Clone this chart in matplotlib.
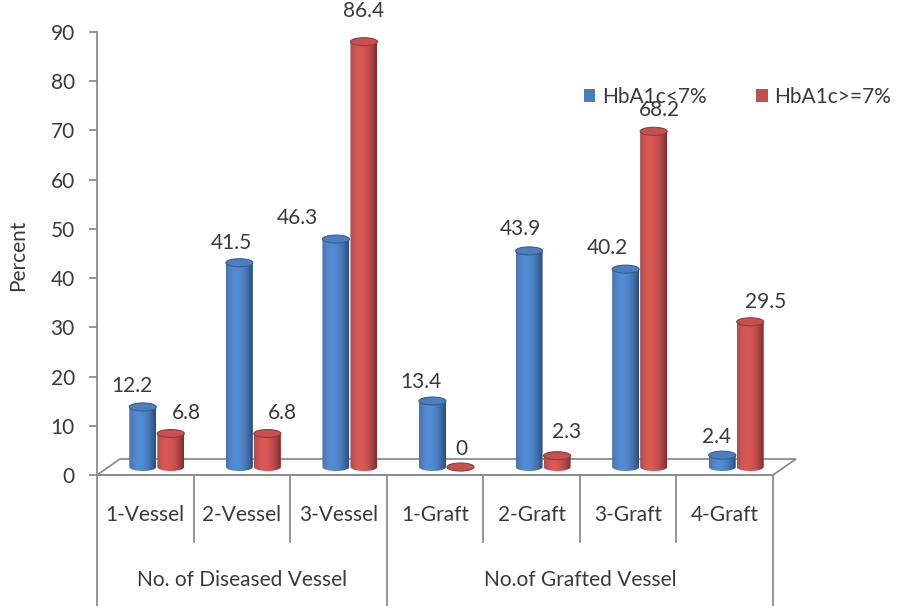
import numpy as np
import matplotlib
matplotlib.use("Agg")
import matplotlib.pyplot as plt
from matplotlib.patches import Ellipse, PathPatch, Polygon, Patch
from matplotlib.path import Path

plt.rcParams["font.family"] = ["Lato", "DejaVu Sans"]

categories = ["1-Vessel", "2-Vessel", "3-Vessel", "1-Graft", "2-Graft", "3-Graft", "4-Graft"]
groups = ["No. of Diseased Vessel", "No.of Grafted Vessel"]
group_sizes = [3, 4]
series_names = ["HbA1c<7%", "HbA1c>=7%"]
hba1c_low = [12.2, 41.5, 46.3, 13.4, 43.9, 40.2, 2.4]
hba1c_high = [6.8, 6.8, 86.4, 0.0, 2.3, 68.2, 29.5]
yticks = list(range(0, 100, 10))

BLUE = np.array([0.29, 0.49, 0.74])
RED = np.array([0.76, 0.31, 0.30])
GRID = "#8c8c8c"
TEXT = "#3a3a3a"

# label offsets in points (dx, dy) from the top of each cylinder
low_offsets = [(-8, 15), (-6, 14), (-28, 15), (-8, 14), (-6, 16), (-13, 15), (-4, 13)]
high_offsets = [(11, 15), (11, 15), (0, 22), (1, 13), (7, 17), (4, 15), (11, 14)]

fig = plt.figure(figsize=(8.98, 6.06), dpi=100)
ax = fig.add_axes([97 / 898, 131 / 606, 676 / 898, 443 / 606])
ax.set_xlim(-0.5, 6.5)
ax.set_ylim(0, 90)

# pixel sizes converted into data units for the fake 3D depth
px_x = 7 / 676
px_y = 90 / 443
back_dx, back_dy = 23 * px_x, 16 * px_y
mid_dx, mid_dy = back_dx / 2, back_dy / 2
bar_w = 27 * px_x
ell_h = 8 * px_y
half_gap = 0.145

# floor
floor = Polygon([(-0.5, 0), (-0.5 + back_dx, back_dy), (6.5 + back_dx, back_dy), (6.5, 0)],
                closed=True, facecolor="white", edgecolor=GRID, linewidth=1.3,
                clip_on=False, zorder=1)
ax.add_patch(floor)


def shading(rgb, n=80):
    t = np.linspace(0, 1, n)
    light = np.clip(1 - ((t - 0.38) / 0.62) ** 2, 0, 1)
    f = 0.6 + 0.52 * light
    cols = np.clip(rgb[None, :] * f[:, None], 0, 1)
    return cols[None, :, :]


def cylinder(xc, value, rgb, z):
    x0, x1 = xc - bar_w / 2, xc + bar_w / 2
    base = mid_dy
    top = value + mid_dy
    theta = np.linspace(np.pi, 2 * np.pi, 40)
    arc_x = xc + bar_w / 2 * np.cos(theta)
    arc_y = base + ell_h / 2 * np.sin(theta)
    verts = [(x0, top)] + list(zip(arc_x, arc_y)) + [(x1, top), (x0, top)]
    codes = [Path.MOVETO] + [Path.LINETO] * (len(verts) - 2) + [Path.CLOSEPOLY]
    body = PathPatch(Path(verts, codes), facecolor="none", edgecolor="none")
    ax.add_patch(body)
    im = ax.imshow(shading(rgb), extent=[x0, x1, base - ell_h, top], aspect="auto",
                   interpolation="bilinear", zorder=z)
    im.set_clip_path(body)
    cap = Ellipse((xc, top), bar_w, ell_h, facecolor=np.clip(rgb * 1.02, 0, 1),
                  edgecolor=np.clip(rgb * 0.75, 0, 1), linewidth=0.8, zorder=z + 0.1)
    ax.add_patch(cap)
    return top


for i in range(len(categories)):
    for vals, rgb, offs, sign in ((hba1c_low, BLUE, low_offsets, -1),
                                  (hba1c_high, RED, high_offsets, 1)):
        xc = i + mid_dx + sign * half_gap
        top = cylinder(xc, vals[i], rgb, 3)
        dx, dy = offs[i]
        label = f"{vals[i]:g}" if vals[i] else "0"
        ax.annotate(label, (xc, top), xytext=(dx, dy), textcoords="offset points",
                    ha="center", va="center", fontsize=15, color=TEXT, zorder=6)

ax.set_xlim(-0.5, 6.5)
ax.set_ylim(0, 90)

# axes styling
for side in ("top", "right", "bottom"):
    ax.spines[side].set_visible(False)
ax.spines["left"].set_color(GRID)
ax.spines["left"].set_linewidth(1.3)
ax.set_yticks(yticks)
ax.tick_params(axis="y", direction="out", length=6, width=1.3, color=GRID,
               labelsize=15, labelcolor=TEXT, pad=10)
ax.set_xticks([])
fig.text(18 / 898, 1 - 255 / 606, "Percent", rotation=90, ha="center", va="center",
         fontsize=15, color=TEXT)

# category table below the floor
xt = ax.get_xaxis_transform()
ax.plot([-0.5, 6.5], [0, 0], color=GRID, lw=1.3, transform=xt, clip_on=False, zorder=2)
bounds = np.arange(-0.5, 7.0, 1.0)
group_edges = np.cumsum([0] + group_sizes) - 0.5
short_end = -67 / 443
long_end = -131 / 443
for b in bounds:
    end = long_end if np.isclose(group_edges, b).any() else short_end
    ax.plot([b, b], [0, end], color=GRID, lw=1.3, transform=xt, clip_on=False)
for i, name in enumerate(categories):
    ax.text(i, -40 / 443, name, transform=xt, ha="center", va="center",
            fontsize=15, color=TEXT)
for g, name in enumerate(groups):
    mid = (group_edges[g] + group_edges[g + 1]) / 2
    ax.text(mid, -105 / 443, name, transform=xt, ha="center", va="center",
            fontsize=15, color=TEXT)

handles = [Patch(facecolor=BLUE), Patch(facecolor=RED)]
leg = ax.legend(handles, series_names, loc="center left", bbox_to_anchor=(0.708, 0.853),
                ncol=2, frameon=False, fontsize=15, handlelength=0.55, handleheight=0.55,
                handletextpad=0.3, columnspacing=2.4, borderaxespad=0)
for t in leg.get_texts():
    t.set_color(TEXT)

fig.savefig("out.png", dpi=100)
